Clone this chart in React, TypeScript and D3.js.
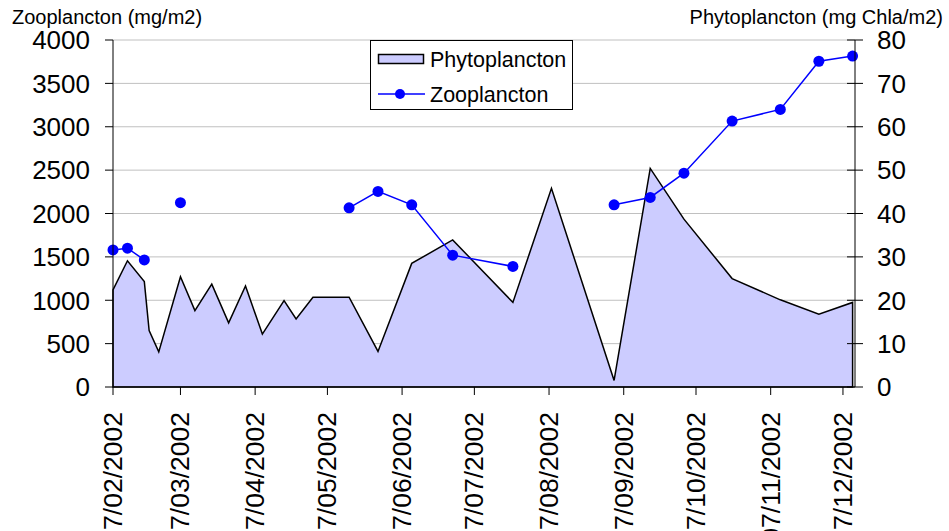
import React from "react";
import * as d3 from "d3";

const dates = [
  "2002-02-07", "2002-02-13", "2002-02-20", "2002-02-22", "2002-02-26",
  "2002-03-07", "2002-03-13", "2002-03-20", "2002-03-27", "2002-04-03",
  "2002-04-10", "2002-04-19", "2002-04-24", "2002-05-01", "2002-05-16",
  "2002-05-28", "2002-06-11", "2002-06-28", "2002-07-23", "2002-08-08",
  "2002-09-03", "2002-09-18", "2002-10-02", "2002-10-22", "2002-11-11",
  "2002-11-27", "2002-12-11",
];
const phyto = [
  22.4, 29.1, 24.3, 13.0, 8.1,
  25.4, 17.6, 23.7, 14.8, 23.3,
  12.2, 19.9, 15.7, 20.7, 20.7,
  8.2, 28.5, 33.9, 19.5, 45.8,
  1.5, 50.4, 38.7, 25.0, 20.1,
  16.8, 19.5,
];
const zoo: (number | null)[] = [
  1580, 1600, 1465, null, null,
  2125, null, null, null, null,
  null, null, null, null, 2065,
  2255, 2100, 1520, 1390, null,
  2100, 2185, 2465, 3065, 3200,
  3755, 3815,
];
const xTickDates = [
  "2002-02-07", "2002-03-07", "2002-04-07", "2002-05-07", "2002-06-07",
  "2002-07-07", "2002-08-07", "2002-09-07", "2002-10-07", "2002-11-07",
  "2002-12-07",
];
const leftTicks = [0, 500, 1000, 1500, 2000, 2500, 3000, 3500, 4000];
const rightTicks = [0, 10, 20, 30, 40, 50, 60, 70, 80];
const leftTitle = "Zooplancton (mg/m2)";
const rightTitle = "Phytoplancton (mg Chla/m2)";
const seriesNames = ["Phytoplancton", "Zooplancton"];

const W = 949, H = 531;
const L = 113, R = 855, T = 40, B = 387;
const FONT = "'Liberation Sans', Arial, sans-serif";

export default function App() {
  const parse = d3.utcParse("%Y-%m-%d");
  const ds = dates.map((d) => parse(d) as Date);
  const x = d3.scaleUtc().domain([parse("2002-02-07") as Date, parse("2002-12-12") as Date]).range([L, R]);
  const yL = d3.scaleLinear().domain([0, 4000]).range([B, T]);
  const yR = d3.scaleLinear().domain([0, 80]).range([B, T]);
  const fmt = d3.utcFormat("%d/%m/%Y");

  const area = d3.area<number>()
    .x((_, i) => x(ds[i]))
    .y0(B)
    .y1((v) => yR(v));
  const phytoPath = area(phyto) + "";
  const zooLine = d3.line<number | null>()
    .defined((v) => v !== null)
    .x((_, i) => x(ds[i]))
    .y((v) => yL(v as number));

  return (
    <svg width={W} height={H} style={{ position: "absolute", left: 0, top: 0, background: "#fff" }} fontFamily={FONT}>
      {leftTicks.filter((t) => t > 0).map((t) => (
        <line key={"g" + t} x1={L} x2={R} y1={yL(t)} y2={yL(t)} stroke="#c0c0c0" strokeWidth={1} />
      ))}
      <path d={phytoPath + "Z"} fill="#ccccff" stroke="#000" strokeWidth={1.5} strokeLinejoin="miter" />
      <path d={zooLine(zoo) || ""} fill="none" stroke="#0000ff" strokeWidth={1.5} />
      {zoo.map((v, i) => v === null ? null : (
        <circle key={"z" + i} cx={x(ds[i])} cy={yL(v)} r={5.5} fill="#0000ff" />
      ))}
      <line x1={L} x2={L} y1={T} y2={B} stroke="#000" strokeWidth={1} />
      <line x1={R} x2={R} y1={T} y2={B} stroke="#000" strokeWidth={1} />
      <line x1={L} x2={R} y1={B} y2={B} stroke="#000" strokeWidth={1} />
      {leftTicks.map((t) => (
        <g key={"l" + t}>
          <line x1={L - 8} x2={L} y1={yL(t)} y2={yL(t)} stroke="#000" />
          <text x={90} y={yL(t)} dy="0.36em" textAnchor="end" fontSize={26}>{t}</text>
        </g>
      ))}
      {rightTicks.map((t) => (
        <g key={"r" + t}>
          <line x1={R - 8} x2={R + 8} y1={yR(t)} y2={yR(t)} stroke="#000" />
          <text x={877} y={yR(t)} dy="0.36em" textAnchor="start" fontSize={26}>{t}</text>
        </g>
      ))}
      {xTickDates.map((s) => {
        const d = parse(s) as Date;
        const px = x(d);
        return (
          <g key={"x" + s}>
            <line x1={px} x2={px} y1={B} y2={B + 8} stroke="#000" />
            <text transform={`translate(${px + 9},412) rotate(-90)`} textAnchor="end" fontSize={26.5}>{fmt(d)}</text>
          </g>
        );
      })}
      <text x={12} y={24} fontSize={20}>{leftTitle}</text>
      <text x={943} y={24} fontSize={20} textAnchor="end">{rightTitle}</text>
      <rect x={370.5} y={40.5} width={202} height={69} fill="#fff" stroke="#000" strokeWidth={1} />
      <rect x={378.5} y={54.5} width={45} height={9} fill="#ccccff" stroke="#000" strokeWidth={1.5} />
      <text x={430} y={66.5} fontSize={21.5}>{seriesNames[0]}</text>
      <line x1={378} x2={425} y1={94} y2={94} stroke="#0000ff" strokeWidth={1.5} />
      <circle cx={400} cy={94} r={5} fill="#0000ff" />
      <text x={430} y={101.5} fontSize={21.5}>{seriesNames[1]}</text>
    </svg>
  );
}
